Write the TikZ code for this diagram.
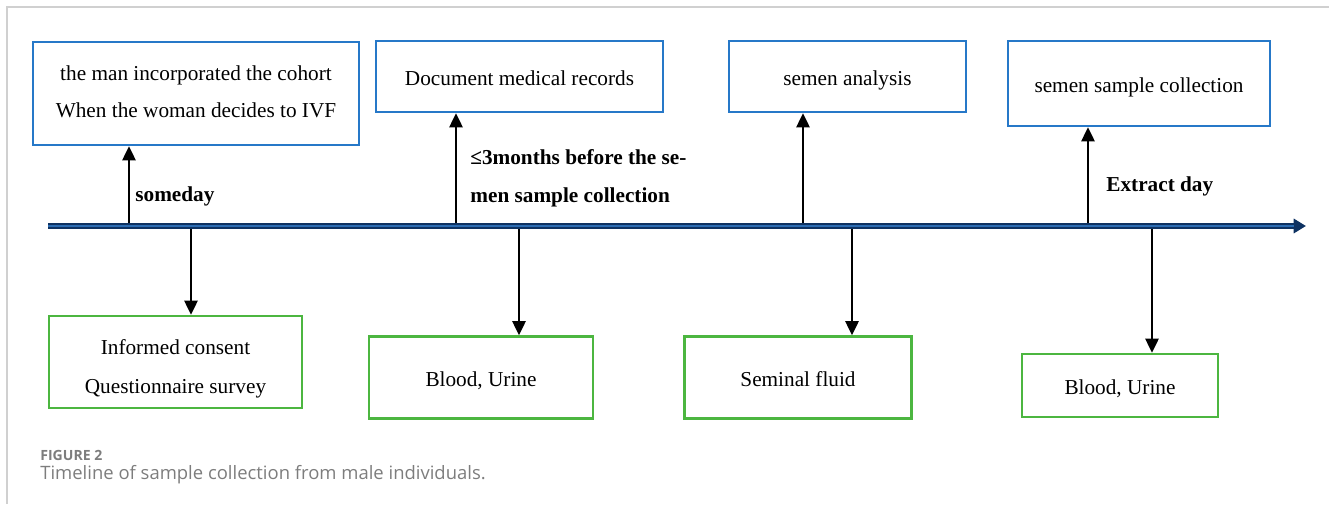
\documentclass[tikz,border=0pt]{standalone}
\usepackage{fontspec}
\setmainfont{Liberation Serif}
\newfontfamily\capfont{Open Sans}
\usetikzlibrary{arrows.meta}
\definecolor{boxblue}{RGB}{38,120,200}
\definecolor{boxgreen}{RGB}{76,182,64}
\definecolor{linenavy}{RGB}{14,50,98}
\definecolor{lineblue}{RGB}{44,108,178}
\definecolor{capgrey}{RGB}{125,125,125}
\definecolor{framegrey}{RGB}{208,208,208}
\begin{document}
\begin{tikzpicture}[x=0.02cm,y=-0.02cm,
    event/.style={draw=boxblue,line width=1.4pt,inner sep=0pt,
      font=\fontsize{12.1}{21}\selectfont},
    sample/.style={draw=boxgreen,line width=1.4pt,inner sep=0pt,
      font=\fontsize{12.1}{22}\selectfont},
    oneline/.style={text height=10pt,text depth=0pt},
    when/.style={anchor=west,align=left,inner sep=0pt,
      font=\fontsize{12.1}{21.5}\selectfont\bfseries},
    tick/.style={line width=1.1pt,-{Triangle[width=7.5pt,length=8pt]}}]
  \useasboundingbox (0,0) rectangle (1329,504);
  % frame
  \draw[framegrey,line width=0.9pt] (1329,7) -- (7,7) -- (7,504);
  % time line
  \coordinate (t0) at (48,226);
  \coordinate (t1) at (1306,226);
  \draw[linenavy,line width=3.4pt,-{Triangle[width=8pt,length=7pt]}] (t0) -- (t1);
  \draw[lineblue,line width=1.1pt] (t0) -- (1294,226);
  % upper events
  \node[event,align=center,minimum width=6.52cm,minimum height=2.06cm] (e1) at (196,93.5)
    {the man incorporated the cohort\\When the woman decides to IVF\rule[-2.2pt]{0pt}{0pt}};
  \node[event,oneline,minimum width=5.74cm,minimum height=1.42cm] (e2) at (519.5,76.5)
    {Document medical records};
  \node[event,oneline,minimum width=4.74cm,minimum height=1.42cm] (e3) at (847.5,76.5)
    {semen analysis};
  \node[event,oneline,minimum width=5.24cm,minimum height=1.70cm] (e4) at (1139,83.5)
    {semen sample collection};
  % lower samples
  \node[sample,align=center,minimum width=5.06cm,minimum height=1.84cm] (s1) at (175.5,362)
    {\rule{0pt}{16.3pt}Informed consent\\Questionnaire survey};
  \node[sample,oneline,minimum width=4.48cm,minimum height=1.64cm] (s2) at (481,377.5)
    {Blood, Urine};
  \node[sample,oneline,minimum width=4.54cm,minimum height=1.64cm] (s3) at (798,377.5)
    {Seminal fluid};
  \node[sample,oneline,minimum width=3.92cm,minimum height=1.26cm] (s4) at (1120,385.5)
    {Blood, Urine};
  % points on the time line
  \coordinate (u1) at (129,223);
  \coordinate (u2) at (456,223);
  \coordinate (u3) at (803,223);
  \coordinate (u4) at (1088,223);
  \coordinate (d1) at (191,229);
  \coordinate (d2) at (519,229);
  \coordinate (d3) at (852,229);
  \coordinate (d4) at (1152,229);
  \draw[tick] (u1) -- (u1 |- e1.south);
  \draw[tick] (u2) -- (u2 |- e2.south);
  \draw[tick] (u3) -- (u3 |- e3.south);
  \draw[tick] (u4) -- (u4 |- e4.south);
  \draw[tick] (d1) -- (d1 |- s1.north);
  \draw[tick] (d2) -- (d2 |- s2.north);
  \draw[tick] (d3) -- (d3 |- s3.north);
  \draw[tick] (d4) -- (d4 |- s4.north);
  % labels
  \node[when] (l1) at (135,196) {someday};
  \node[when] (l2) at (470,178)
    {≤3months before the se-\\men sample collection};
  \node[when] (l4) at (1106,186) {Extract day};
  % caption
  \node[anchor=base west,inner sep=0pt,text=capgrey,
    font=\capfont\fontsize{8}{10}\selectfont\bfseries] (fig) at (40,460) {FIGURE 2};
  \node[anchor=base west,inner sep=0pt,text=capgrey,
    font=\capfont\fontsize{10.5}{12}\selectfont] (cap) at (40,479)
    {Timeline of sample collection from male individuals.};
\end{tikzpicture}
\end{document}
